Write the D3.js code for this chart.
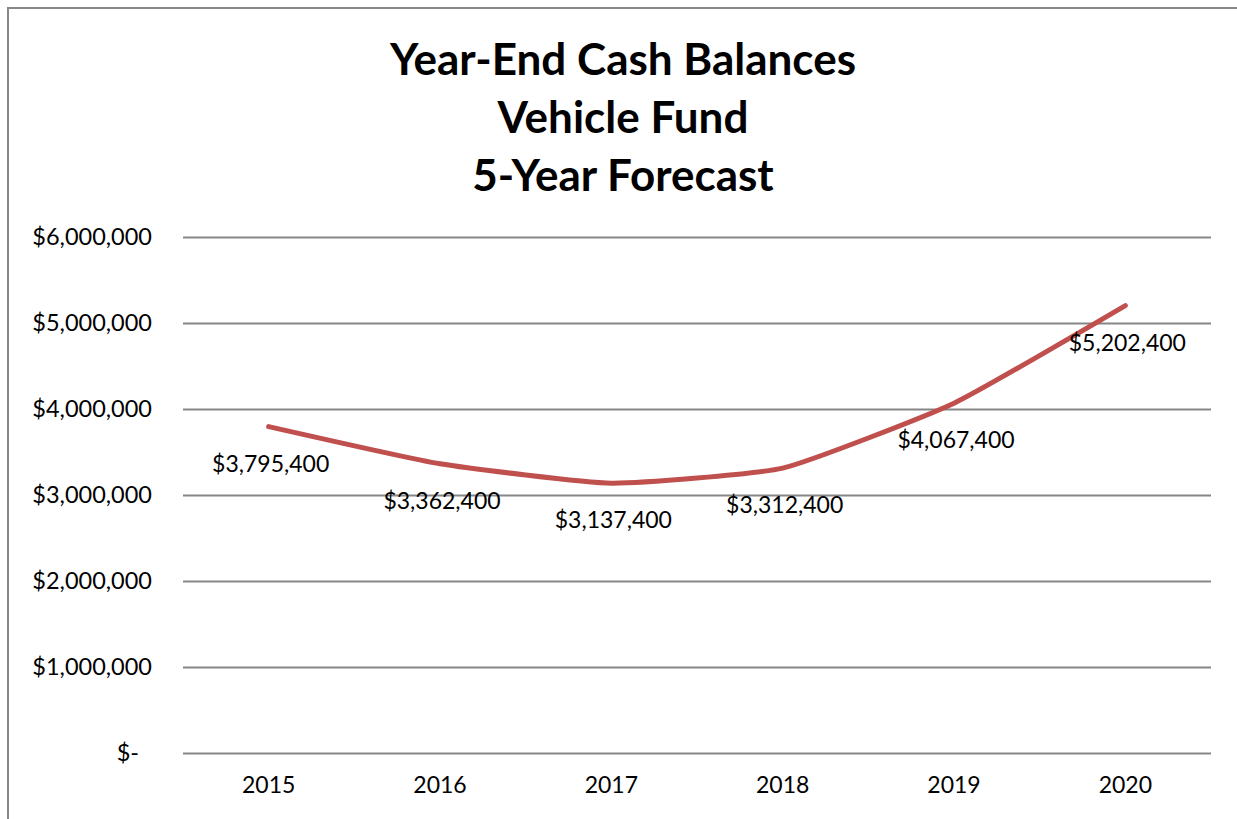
<!DOCTYPE html>
<html>
<head>
<meta charset="utf-8">
<script src="https://cdn.jsdelivr.net/npm/d3@7"></script>
<style>
  body { margin: 0; background: #fff; }
  .canvas svg { display: block; font-family: Lato, "Open Sans", sans-serif; }
</style>
</head>
<body>
<div class="canvas"></div>
<script>
// data
const years = ['2015', '2016', '2017', '2018', '2019', '2020'];
const balances = [3795400, 3362400, 3137400, 3312400, 4067400, 5202400];
const yTicks = [0, 1000000, 2000000, 3000000, 4000000, 5000000, 6000000];
const titleLines = ['Year-End Cash Balances', 'Vehicle Fund', '5-Year Forecast'];

const width = 1237;
const height = 819;

const svg = d3.select('.canvas')
  .append('svg')
    .attr('width', width)
    .attr('height', height);

// chart border
svg.append('rect')
  .attr('x', 8)
  .attr('y', 8)
  .attr('width', 1240)
  .attr('height', 830)
  .attr('fill', 'none')
  .attr('stroke', '#888')
  .attr('stroke-width', 2);

// title
svg.append('g')
  .selectAll('text')
  .data(titleLines)
  .enter()
  .append('text')
    .attr('x', 623)
    .attr('y', (d, i) => 75 + i * 58)
    .attr('text-anchor', 'middle')
    .attr('font-size', 44)
    .attr('font-weight', 'bold')
    .attr('fill', '#000')
    .text(d => d);

const margin = {top: 237, left: 183};
const graphWidth = 1211 - margin.left;
const graphHeight = 753 - margin.top;

const graph = svg.append('g')
  .attr('transform', `translate(${margin.left}, ${margin.top})`);

const x = d3.scaleBand()
  .domain(years)
  .range([0, graphWidth]);

const y = d3.scaleLinear()
  .domain([0, 6000000])
  .range([graphHeight, 0]);

// gridlines / y axis
const yAxis = d3.axisLeft(y)
  .tickValues(yTicks)
  .tickSize(-graphWidth)
  .tickPadding(31)
  .tickFormat(d => d === 0 ? '$-' : '$' + d3.format(',')(d));

const yAxisGroup = graph.append('g').call(yAxis);
yAxisGroup.select('.domain').remove();
yAxisGroup.selectAll('line')
  .attr('stroke', '#868686')
  .attr('stroke-width', 2);
yAxisGroup.selectAll('text')
  .attr('font-size', 23.5)
  .attr('font-family', 'Lato, "Open Sans", sans-serif')
  .attr('fill', '#000')
  .filter(d => d === 0)
    .attr('dx', -13);

// x axis
const xAxis = d3.axisBottom(x).tickSize(0).tickPadding(24);
const xAxisGroup = graph.append('g')
  .attr('transform', `translate(0, ${graphHeight})`)
  .call(xAxis);
xAxisGroup.select('.domain').remove();
xAxisGroup.selectAll('text')
  .attr('font-size', 23)
  .attr('font-family', 'Lato, "Open Sans", sans-serif')
  .attr('fill', '#000');

// line
const points = years.map((yr, i) => ({year: yr, value: balances[i]}));

const line = d3.line()
  .x(d => x(d.year) + x.bandwidth() / 2)
  .y(d => y(d.value))
  .curve(d3.curveCardinal.tension(0.55));

graph.append('path')
  .datum(points)
  .attr('d', line)
  .attr('fill', 'none')
  .attr('stroke', '#C0504D')
  .attr('stroke-width', 5)
  .attr('stroke-linecap', 'round');

// data labels
graph.selectAll('.label')
  .data(points)
  .enter()
  .append('text')
    .attr('class', 'label')
    .attr('x', d => x(d.year) + x.bandwidth() / 2 + 2)
    .attr('y', d => y(d.value) + 45)
    .attr('text-anchor', 'middle')
    .attr('font-size', 23)
    .attr('fill', '#000')
    .text(d => '$' + d3.format(',')(d.value));
</script>
</body>
</html>
